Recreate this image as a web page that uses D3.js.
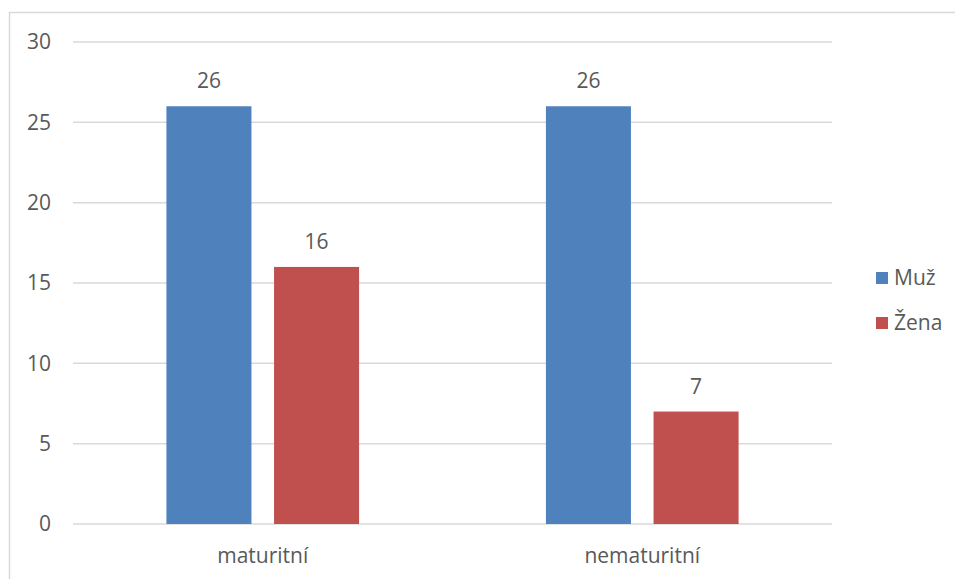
<!DOCTYPE html>
<html><head><meta charset="utf-8">
<script src="https://cdn.jsdelivr.net/npm/d3@7"></script>
<style>body{margin:0;background:#fff}svg{display:block}text{font-family:"Open Sans",sans-serif;fill:#595959}</style>
</head><body>
<script>
const categories = ["maturitní", "nematuritní"];
const seriesNames = ["Muž", "Žena"];
const muz = [26, 26];
const zena = [16, 7];
const yTicks = [0, 5, 10, 15, 20, 25, 30];
const colors = ["#4f81bd", "#c0504d"];

const W = 955, H = 579;
const FS = 21;
const svg = d3.select("body").append("svg").attr("width", W).attr("height", H);
svg.append("rect").attr("x", 9.5).attr("y", 12.5).attr("width", 1000).attr("height", 1000)
  .attr("fill", "none").attr("stroke", "#d9d9d9").attr("stroke-width", 1.5);

const left = 73, right = 832;
const y = d3.scaleLinear().domain([0, 30]).range([524, 42]);
const x0 = d3.scaleBand().domain(categories).range([left, right]);
const x1 = d3.scaleBand().domain(seriesNames).range([0, x0.bandwidth()]).paddingInner(0.21).paddingOuter(0.868);

const grid = svg.append("g");
yTicks.forEach(t => {
  grid.append("line").attr("x1", left).attr("x2", right).attr("y1", y(t)).attr("y2", y(t))
    .attr("stroke", "#d9d9d9").attr("stroke-width", 1.5);
  svg.append("text").attr("x", 51).attr("y", y(t)).attr("dy", "0.35em").attr("text-anchor", "end")
    .attr("font-size", FS).text(t);
});

const data = [muz, zena];
categories.forEach((c, ci) => {
  seriesNames.forEach((s, si) => {
    const v = data[si][ci];
    const bx = x0(c) + x1(s);
    svg.append("rect").attr("x", bx).attr("y", y(v)).attr("width", x1.bandwidth()).attr("height", y(0) - y(v))
      .attr("fill", colors[si]);
    svg.append("text").attr("x", bx + x1.bandwidth() / 2).attr("y", y(v) - 18).attr("text-anchor", "middle")
      .attr("font-size", FS).text(v);
  });
  svg.append("text").attr("x", x0(c) + x0.bandwidth() / 2).attr("y", 563).attr("text-anchor", "middle")
    .attr("font-size", FS).text(c);
});

seriesNames.forEach((s, si) => {
  const ly = 272 + si * 45;
  svg.append("rect").attr("x", 876).attr("y", ly).attr("width", 12).attr("height", 12).attr("fill", colors[si]);
  svg.append("text").attr("x", 894).attr("y", ly + 6).attr("dy", "0.35em").attr("font-size", FS).text(s);
});
</script>
</body></html>
